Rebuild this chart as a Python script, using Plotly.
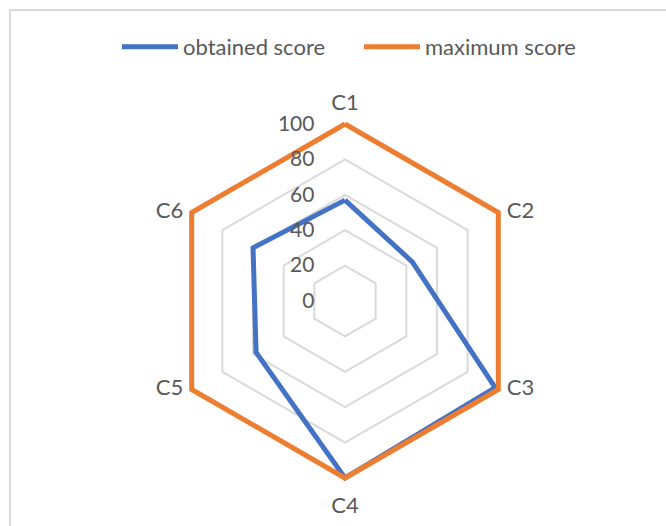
import plotly.graph_objects as go

categories = ["C1", "C2", "C3", "C4", "C5", "C6"]
obtained = [57, 44, 98, 100, 58, 60]
maximum = [100, 100, 100, 100, 100, 100]
tick_vals = [0, 20, 40, 60, 80, 100]

W, H = 666, 526
cx, cy, R100 = 345, 301, 177
RMAX = 103
R = R100 * RMAX / 100

FONT = "Lato, Carlito, Calibri, sans-serif"
GRAY = "#595959"

fig = go.Figure()
fig.add_trace(go.Scatterpolar(
    r=obtained + obtained[:1], theta=categories + categories[:1],
    mode="lines", name="obtained score", hoverinfo="skip",
    line=dict(color="#4472C4", width=5)))
fig.add_trace(go.Scatterpolar(
    r=maximum + maximum[:1], theta=categories + categories[:1],
    mode="lines", name="maximum score", hoverinfo="skip",
    line=dict(color="#ED7D31", width=5)))
# category labels placed at the outer ring, Excel style
fig.add_trace(go.Scatterpolar(
    r=[tick_vals[-1]] * len(categories), theta=categories,
    mode="markers+text", text=categories, showlegend=False, hoverinfo="skip",
    cliponaxis=False,
    marker=dict(size=[12, 12, 12, 28, 12, 12], opacity=0),
    textposition=["top center", "middle right", "middle right",
                  "bottom center", "middle left", "middle left"],
    textfont=dict(family=FONT, size=22, color=GRAY)))

fig.update_layout(
    width=W, height=H,
    margin=dict(l=0, r=0, t=0, b=0),
    paper_bgcolor="white",
    font=dict(family=FONT, color=GRAY, size=22),
    showlegend=True,
    legend=dict(orientation="h", x=117 / W, xanchor="left", y=1 - 47 / H, yanchor="middle",
                font=dict(family=FONT, size=22, color=GRAY), itemwidth=56,
                entrywidth=171, entrywidthmode="pixels",
                bgcolor="rgba(0,0,0,0)"),
    polar=dict(
        domain=dict(x=[(cx - R) / W, (cx + R) / W],
                    y=[(H - cy - R) / H, (H - cy + R) / H]),
        bgcolor="white",
        gridshape="linear",
        radialaxis=dict(range=[0, RMAX], tickvals=tick_vals,
                        ticktext=[str(v) + "\u00a0" * 5 for v in tick_vals],
                        angle=90, tickangle=90, side="counterclockwise",
                        showline=False, ticks="", gridcolor="#D9D9D9", gridwidth=1.5,
                        tickfont=dict(family=FONT, size=21, color=GRAY)),
        angularaxis=dict(direction="clockwise", rotation=90, showgrid=False,
                         showline=False, ticks="", showticklabels=False,
                         categoryorder="array", categoryarray=categories),
    ),
    shapes=[dict(type="rect", xref="paper", yref="paper",
                 x0=10 / W, x1=1.02, y0=-0.02, y1=1 - 10 / H,
                 line=dict(color="#D9D9D9", width=2), layer="below")],
)

fig.write_html("out.html", config={"displayModeBar": False},
               post_script="document.body.style.margin='0';")
